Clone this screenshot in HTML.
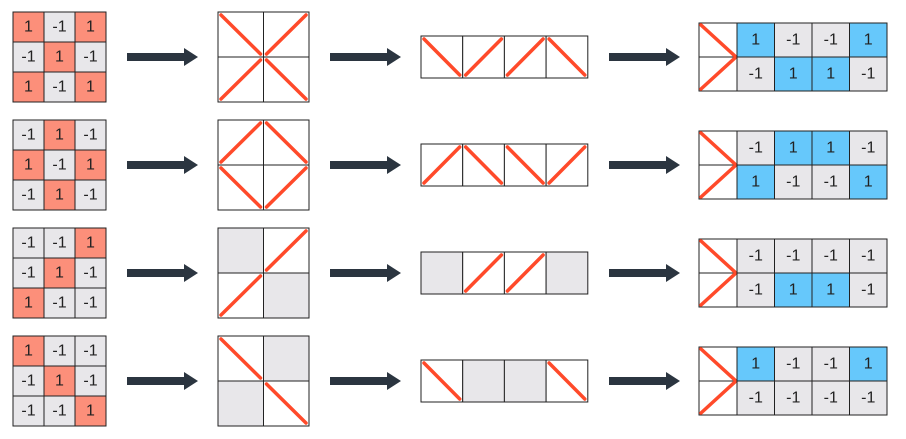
<!DOCTYPE html>
<html><head><meta charset="utf-8"><style>
body{margin:0;background:#fff;width:906px;height:439px;overflow:hidden}
svg{display:block}
text{font-family:"Liberation Sans",sans-serif;font-size:16px;fill:#222;text-anchor:middle;dominant-baseline:central}
</style></head><body>
<svg id="s" width="906" height="439"></svg>
<script>
const grids=[[[1,-1,1],[-1,1,-1],[1,-1,1]],[[-1,1,-1],[1,-1,1],[-1,1,-1]],[[-1,-1,1],[-1,1,-1],[1,-1,-1]],[[1,-1,-1],[-1,1,-1],[-1,-1,1]]];
const quads=[["\\","/","/","\\"],["/","\\","\\","/"],["g","/","/","g"],["\\","g","g","\\"]];
const finals=[[[1,-1,-1,1],[-1,1,1,-1]],[[-1,1,1,-1],[1,-1,-1,1]],[[-1,-1,-1,-1],[-1,1,1,-1]],[[1,-1,-1,1],[-1,-1,-1,-1]]];
const S=document.getElementById('s'),NS='http://www.w3.org/2000/svg';
const RED='#ff4a2a',GREY='#e8e7ea',SAL='#fc8f7a',BLUE='#66c8fb';
function el(t,a,p){const e=document.createElementNS(NS,t);for(const k in a)e.setAttribute(k,a[k]);(p||S).appendChild(e);return e;}
function rect(x,y,w,h,f,name){const r=el('rect',{x,y,width:w,height:h,fill:f,stroke:'#222','stroke-width':1});

return r;}
function diag(x,y,w,h,t){const m=3;const l=t=='\\'?el('line',{x1:x+m,y1:y+m,x2:x+w-m,y2:y+h-m}):el('line',{x1:x+m,y1:y+h-m,x2:x+w-m,y2:y+m});
l.setAttribute('stroke',RED);l.setAttribute('stroke-width',3.5);l.setAttribute('stroke-linecap','round');

}
function txt(x,y,v){const t=el('text',{x,y});t.textContent=v;

}
function arrow(x,cy){const p=el('polygon',{points:`${x},${cy-4} ${x+57},${cy-4} ${x+57},${cy-9} ${x+71},${cy} ${x+57},${cy+9} ${x+57},${cy+4} ${x},${cy+4}`,fill:'#2b3540'});

}
for(let r=0;r<4;r++){
 const oy=12+r*108, cy=oy+45;
 const g=grids[r];
 for(let i=0;i<3;i++)for(let j=0;j<3;j++){const x=13+j*31,y=oy+i*30;rect(x,y,31,30,g[i][j]==1?SAL:GREY,'input-cell');txt(x+15.5,y+15,g[i][j]);}
 arrow(127,cy);
 const q=quads[r];
 for(let k=0;k<4;k++){const x=218+(k%2)*45.5,y=oy+Math.floor(k/2)*45;rect(x,y,45.5,45,q[k]=='g'?GREY:'#fff','quadrant');}
 for(let k=0;k<4;k++){const x=218+(k%2)*45.5,y=oy+Math.floor(k/2)*45;if(q[k]!='g')diag(x,y,45.5,45,q[k]);}
 arrow(330,cy);
 for(let k=0;k<4;k++){const x=421+k*41.7,y=cy-21;rect(x,y,41.7,42,q[k]=='g'?GREY:'#fff','strip-cell');if(q[k]!='g')diag(x,y,41.7,42,q[k]);}
 arrow(609,cy);
 const fy=cy-34;
 rect(699,fy,38,34,'#fff','legend-cell');rect(699,fy+34,38,34,'#fff','legend-cell');
 const v=el('polyline',{points:`701,${fy+2} 736,${fy+34} 701,${fy+66}`,fill:'none',stroke:RED,'stroke-width':3.5,'stroke-linecap':'round'});
 
 
 const f=finals[r];
 for(let i=0;i<2;i++)for(let j=0;j<4;j++){const x=737+j*37.5,y=fy+i*34;rect(x,y,37.5,34,f[i][j]==1?BLUE:GREY,'output-cell');txt(x+18.75,y+17,f[i][j]);}
}
</script>
</body></html>
